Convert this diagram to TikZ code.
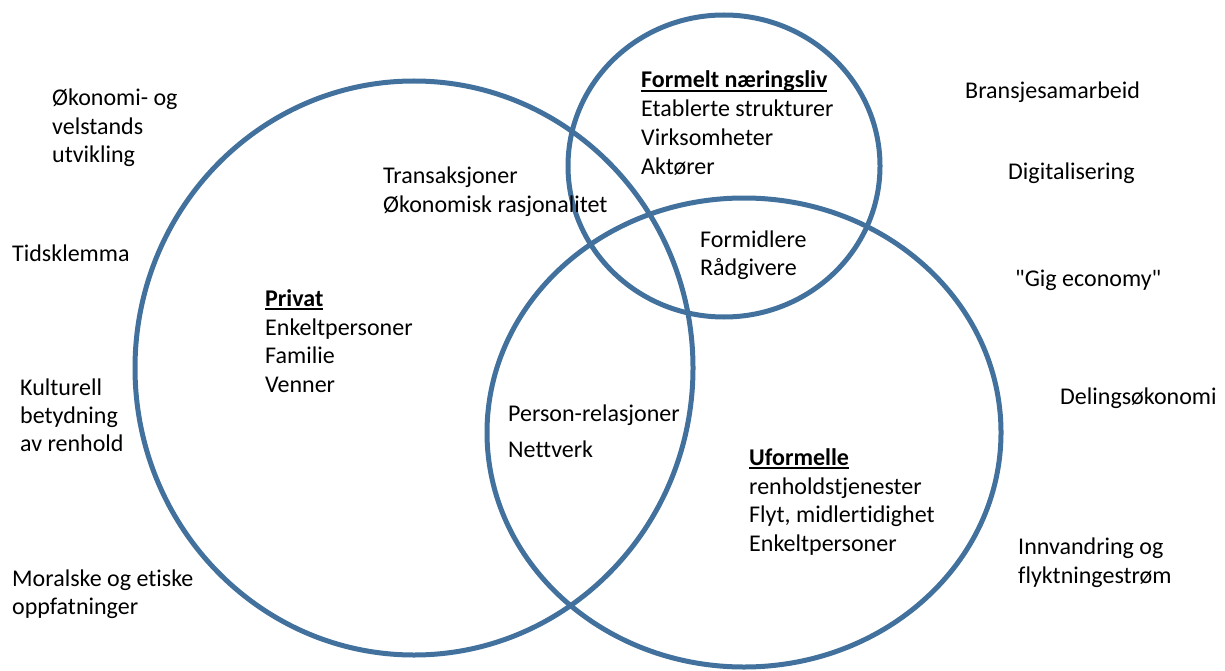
\documentclass[tikz,border=0pt]{standalone}
\usepackage{fontspec}
\setmainfont[Ligatures={TeXOff,NoCommon}]{Carlito}
\definecolor{ring}{RGB}{65,113,156}
\newcommand\ulhead[1]{\setbox0\hbox{\bfseries #1}\rlap{\rule[-4pt]{\wd0}{1.8pt}}\box0}
\begin{document}
\begin{tikzpicture}[x=1pt,y=-1pt,
  ring/.style={draw=ring, line width=5pt},
  lbl/.style={anchor=base west, inner sep=0pt, font=\fontsize{24}{29}\selectfont}]
\useasboundingbox (0,0) rectangle (1225,671);
% circles
\draw[ring] (414,368) ellipse [x radius=279, y radius=287];
\draw[ring] (724,166) ellipse [x radius=156, y radius=151];
\draw[ring] (744,432.5) ellipse [x radius=257, y radius=234.5];
% left column
\node[lbl] (l1a) at (52,106) {Økonomi- og};
\node[lbl] (l1b) at (52,135) {velstands};
\node[lbl] (l1c) at (52,163) {utvikling};
\node[lbl] (l2) at (12,261) {Tidsklemma};
\node[lbl] (l3a) at (20,395) {Kulturell};
\node[lbl] (l3b) at (20,423) {betydning};
\node[lbl] (l3c) at (20,451) {av renhold};
\node[lbl] (l4a) at (12,586) {Moralske og etiske};
\node[lbl] (l4b) at (12,614) {oppfatninger};
% inside
\node[lbl] (t1) at (383,184) {Transaksjoner};
\node[lbl] (t2) at (383,212) {Økonomisk rasjonalitet};
\node[lbl] (p0) at (265,306) {\ulhead{Privat}};
\node[lbl] (p1) at (265,335) {Enkeltpersoner};
\node[lbl] (p2) at (265,363) {Familie};
\node[lbl] (p3) at (265,392) {Venner};
\node[lbl] (f0) at (641,88) {\ulhead{Formelt næringsliv}};
\node[lbl] (f1) at (641,117) {Etablerte strukturer};
\node[lbl] (f2) at (641,146) {Virksomheter};
\node[lbl] (f3) at (641,175) {Aktører};
\node[lbl] (m1) at (700,247) {Formidlere};
\node[lbl] (m2) at (700,275) {Rådgivere};
\node[lbl] (r1) at (508,421) {Person-relasjoner};
\node[lbl] (r2) at (508,457) {Nettverk};
\node[lbl] (u0) at (749,465) {\ulhead{Uformelle}};
\node[lbl] (u1) at (749,494) {renholdstjenester};
\node[lbl] (u2) at (749,522) {Flyt, midlertidighet};
\node[lbl] (u3) at (749,551) {Enkeltpersoner};
% right column
\node[lbl] (g1) at (965,99) {Bransjesamarbeid};
\node[lbl] (g2) at (1008,180) {Digitalisering};
\node[lbl] (g3) at (1015,286) {"Gig economy"};
\node[lbl] (g4) at (1060,404) {Delingsøkonomi};
\node[lbl] (g5a) at (1018,554) {Innvandring og};
\node[lbl] (g5b) at (1018,583) {flyktningestrøm};
\end{tikzpicture}
\end{document}
